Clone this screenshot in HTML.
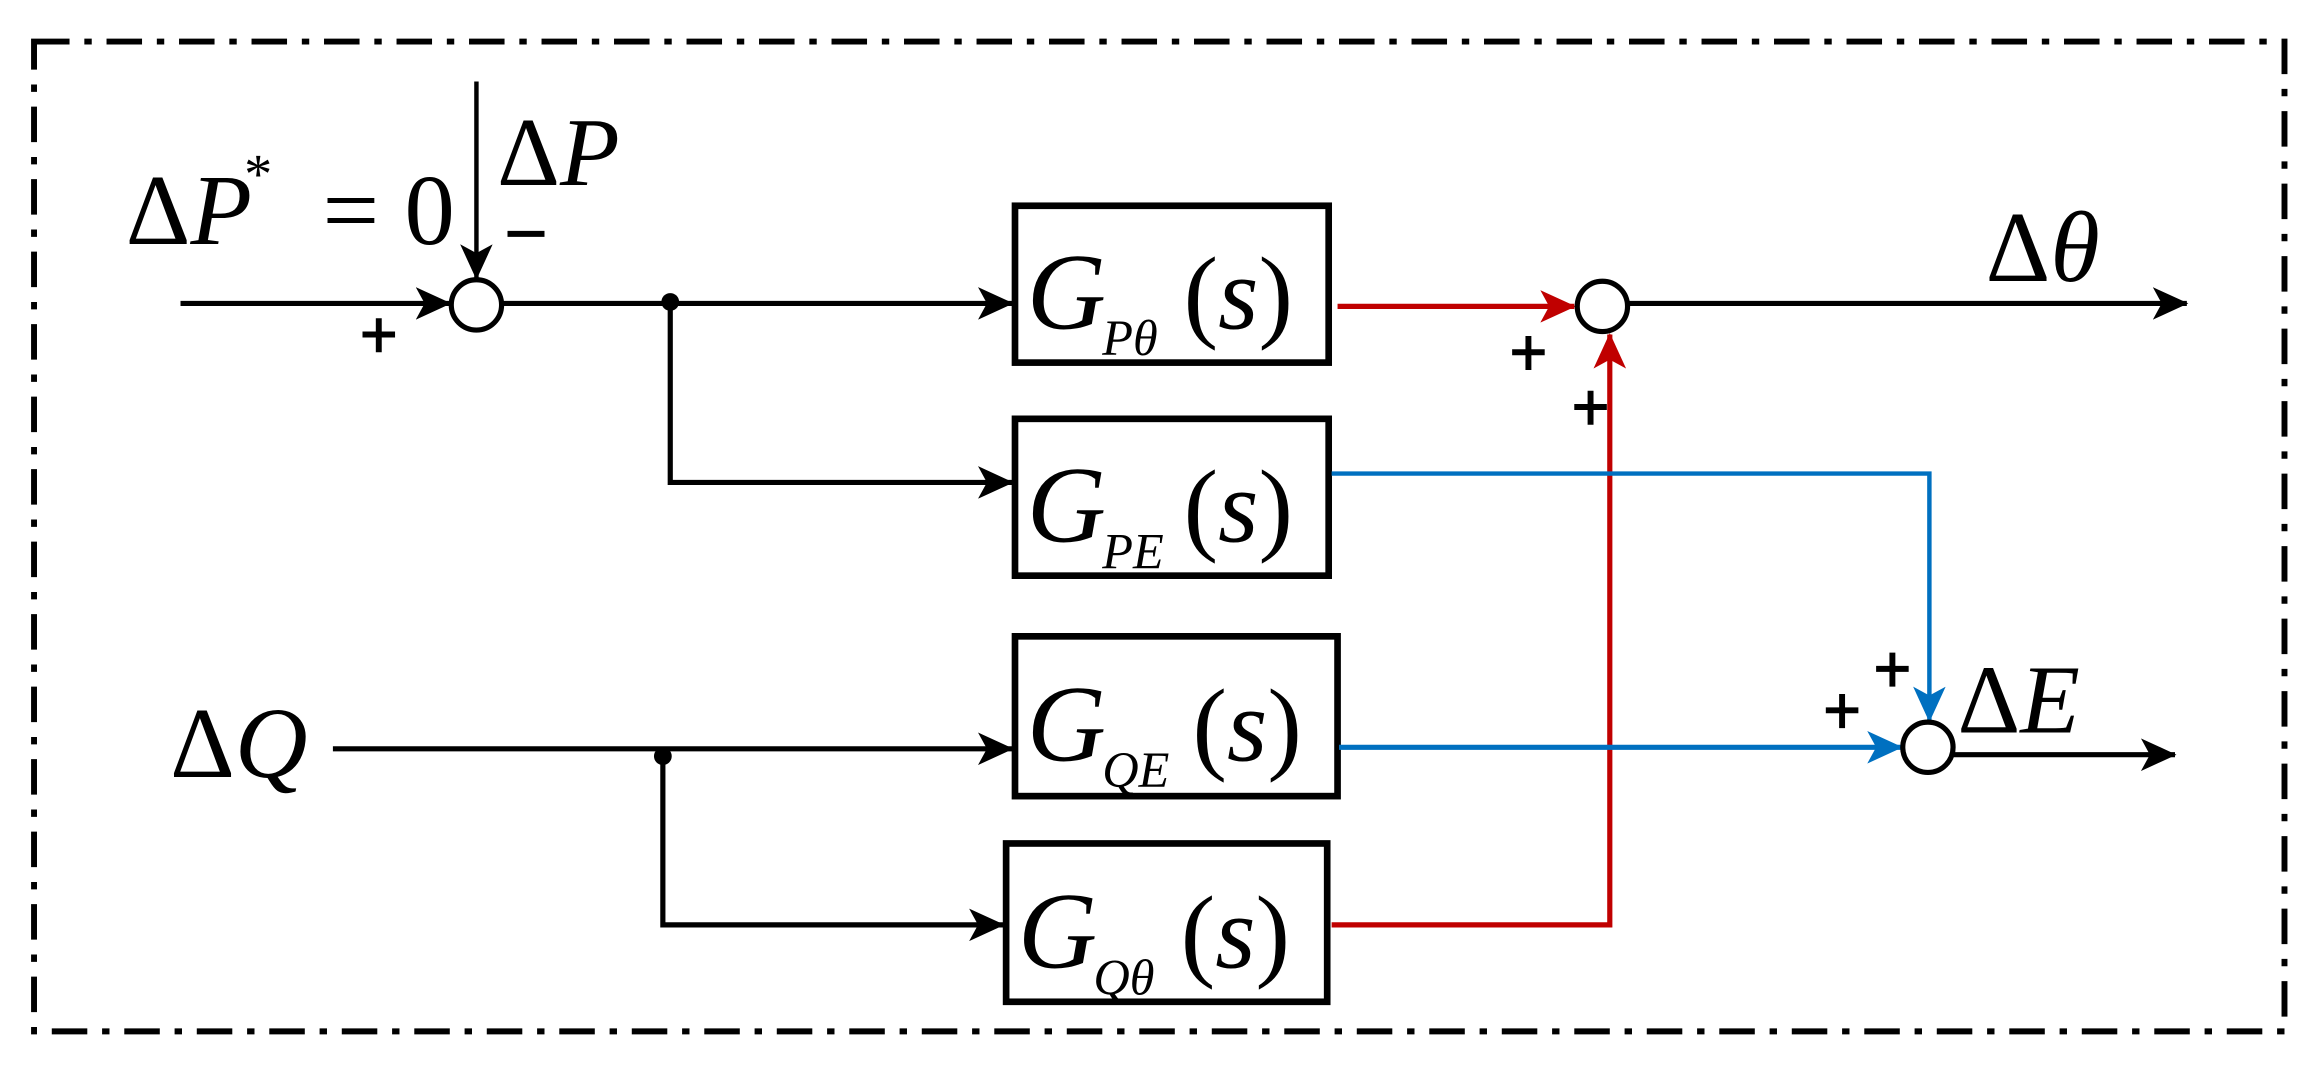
<!DOCTYPE html>
<html><head><meta charset="utf-8"><style>
html,body{margin:0;padding:0;background:#fff;}
svg{display:block;}
text{font-family:"Liberation Serif",serif;}
.it{font-style:italic;}
</style></head><body>
<svg width="2320" height="1067" viewBox="0 0 1568 721" xmlns="http://www.w3.org/2000/svg">
<defs>
<marker id="ak2" markerWidth="24" markerHeight="22" refX="23" refY="11" orient="auto" markerUnits="userSpaceOnUse"><path d="M0,0 L24,11 L0,22 L6,11 Z" fill="#000"/></marker>
<marker id="ar" markerWidth="24" markerHeight="22" refX="23" refY="11" orient="auto" markerUnits="userSpaceOnUse"><path d="M0,0 L24,11 L0,22 L6,11 Z" fill="#c00000"/></marker>
<marker id="ab" markerWidth="24" markerHeight="22" refX="23" refY="11" orient="auto" markerUnits="userSpaceOnUse"><path d="M0,0 L24,11 L0,22 L6,11 Z" fill="#0070c0"/></marker>
</defs>
<rect x="23" y="28" width="1521" height="669" fill="none" stroke="#000" stroke-width="4" stroke-dasharray="24,10,5,10"/>

<text x="85" y="165" font-size="68">Δ<tspan class="it">P</tspan></text>
<text x="165" y="130" font-size="38">*</text>
<text x="218" y="165" font-size="68">= 0</text>
<text x="336" y="125" font-size="66">Δ<tspan class="it">P</tspan></text>
<line x1="343" y1="158" x2="368" y2="158" stroke="#000" stroke-width="4"/>
<line x1="322" y1="55" x2="322" y2="188" stroke="#000" stroke-width="3" marker-end="url(#ak2)"/>

<circle cx="322" cy="206" r="17" fill="none" stroke="#000" stroke-width="3.5"/>
<line x1="122" y1="205" x2="304" y2="205" stroke="#000" stroke-width="3.5" marker-end="url(#ak2)"/>
<path d="M245,226 h22 M256,215 v23" stroke="#000" stroke-width="4"/>
<line x1="340" y1="205" x2="684" y2="205" stroke="#000" stroke-width="3.5" marker-end="url(#ak2)"/>
<circle cx="453" cy="204" r="6" fill="#000"/>
<polyline points="453,205 453,326 684,326" fill="none" stroke="#000" stroke-width="3.5" marker-end="url(#ak2)"/>

<rect x="686" y="139" width="212" height="106" fill="none" stroke="#000" stroke-width="4.5"/>
<rect x="686" y="283" width="212" height="106" fill="none" stroke="#000" stroke-width="4.5"/>
<rect x="686" y="430" width="218" height="108" fill="none" stroke="#000" stroke-width="4.5"/>
<rect x="680" y="570" width="217" height="107" fill="none" stroke="#000" stroke-width="4.5"/>

<text x="694" y="222" font-size="74" class="it">G</text><text x="745" y="240" font-size="34" class="it">Pθ</text><text x="800" y="222" font-size="70">(<tspan class="it">s</tspan>)</text>
<text x="694" y="366" font-size="74" class="it">G</text><text x="745" y="384" font-size="34" class="it">PE</text><text x="800" y="366" font-size="70">(<tspan class="it">s</tspan>)</text>
<text x="694" y="514" font-size="74" class="it">G</text><text x="745" y="532" font-size="34" class="it">QE</text><text x="806" y="514" font-size="70">(<tspan class="it">s</tspan>)</text>
<text x="688" y="654" font-size="74" class="it">G</text><text x="739" y="672" font-size="34" class="it">Qθ</text><text x="798" y="654" font-size="70">(<tspan class="it">s</tspan>)</text>

<line x1="904" y1="207" x2="1064" y2="207" stroke="#c00000" stroke-width="3.5" marker-end="url(#ar)"/>
<polyline points="900,625 1088,625 1088,226" fill="none" stroke="#c00000" stroke-width="3.5" marker-end="url(#ar)"/>
<circle cx="1083" cy="207" r="17" fill="none" stroke="#000" stroke-width="3.5"/>
<path d="M1022,238 h22 M1033,227 v23" stroke="#000" stroke-width="4"/>
<path d="M1064,275 h22 M1075,264 v23" stroke="#000" stroke-width="4"/>
<line x1="1100" y1="205" x2="1478" y2="205" stroke="#000" stroke-width="3.5" marker-end="url(#ak2)"/>
<text x="1342" y="190" font-size="68">Δ<tspan class="it">θ</tspan></text>

<polyline points="900,320 1304,320 1304,487" fill="none" stroke="#0070c0" stroke-width="3" marker-end="url(#ab)"/>
<line x1="905" y1="505" x2="1285" y2="505" stroke="#0070c0" stroke-width="3.5" marker-end="url(#ab)"/>
<circle cx="1303" cy="505" r="17" fill="none" stroke="#000" stroke-width="3.5"/>
<path d="M1268,452 h22 M1279,441 v23" stroke="#000" stroke-width="4"/>
<path d="M1234,480 h22 M1245,469 v23" stroke="#000" stroke-width="4"/>
<line x1="1320" y1="510" x2="1470" y2="510" stroke="#000" stroke-width="3.5" marker-end="url(#ak2)"/>
<text x="1323" y="495" font-size="66">Δ<tspan class="it">E</tspan></text>

<text x="115" y="525" font-size="68">Δ<tspan class="it">Q</tspan></text>
<line x1="225" y1="506" x2="684" y2="506" stroke="#000" stroke-width="3.5" marker-end="url(#ak2)"/>
<circle cx="448" cy="511" r="6" fill="#000"/>
<polyline points="448,512 448,625 678,625" fill="none" stroke="#000" stroke-width="3.5" marker-end="url(#ak2)"/>
</svg>
</body></html>
